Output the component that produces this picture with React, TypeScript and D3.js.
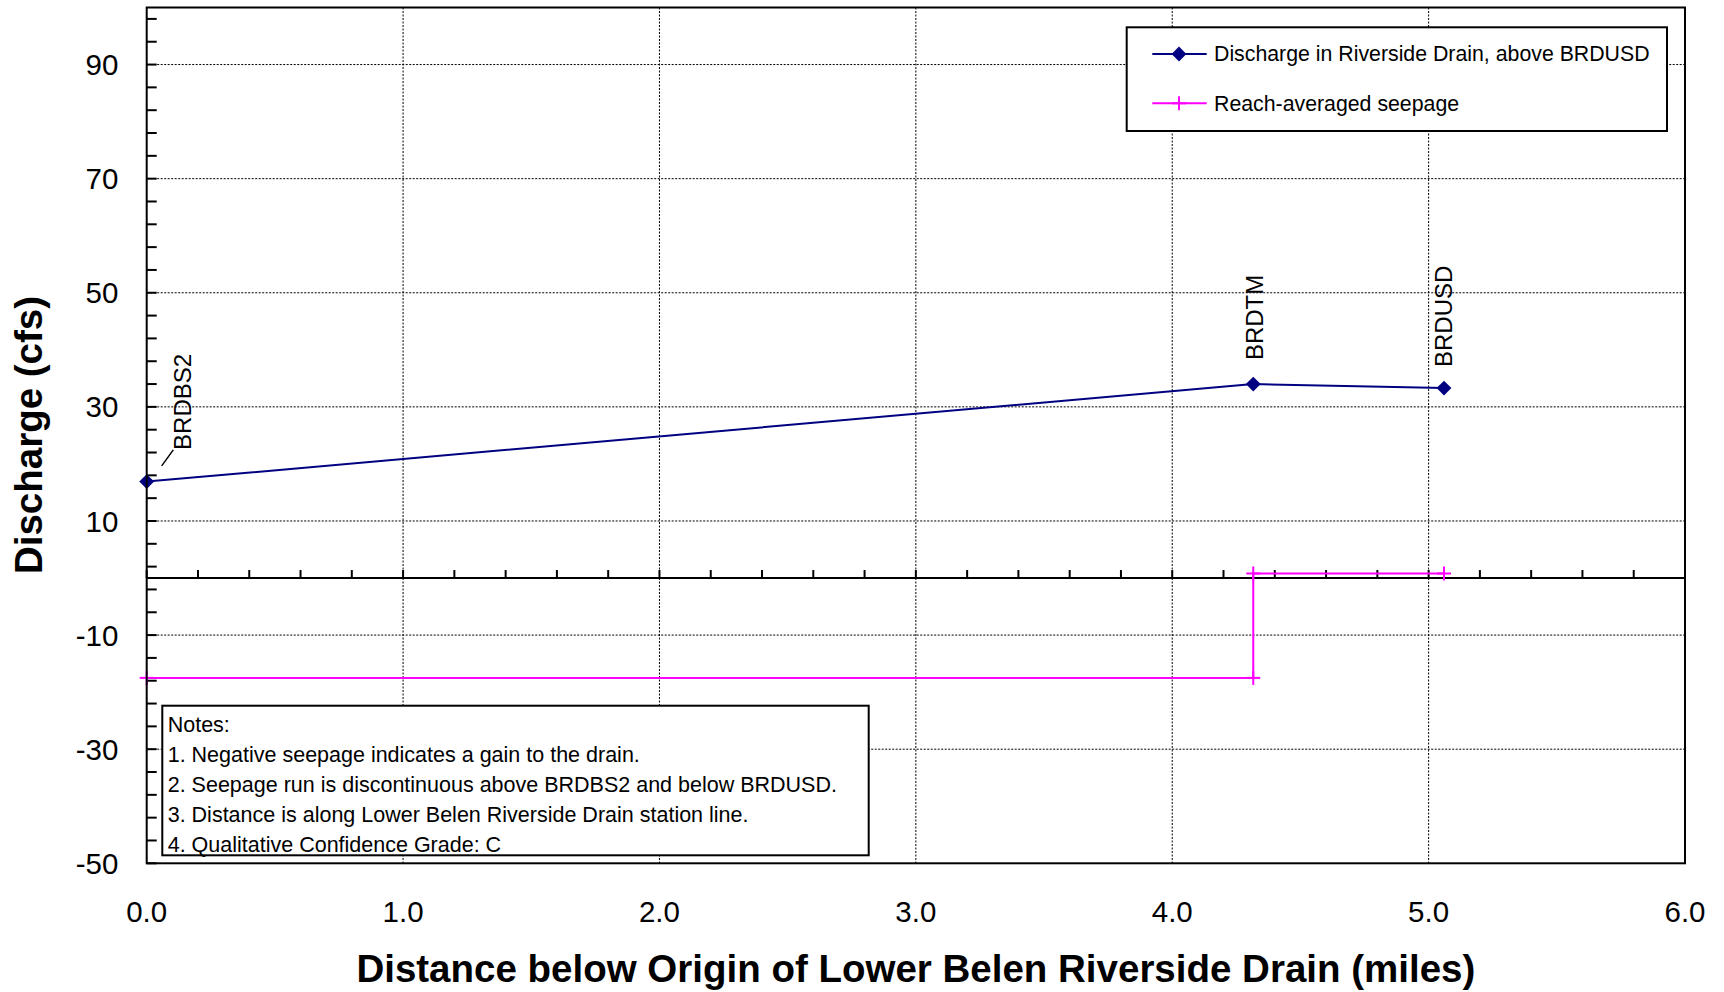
import React from "react";
import * as d3 from "d3";

// ---- data ----
const stationNames = ["BRDBS2", "BRDTM", "BRDUSD"];
const stationDistance = [0, 4.316, 5.06];
const dischargeValues = [16.9, 34.0, 33.3];

const seepageDistance = [0, 4.316, 4.316, 5.06];
const seepageValues = [-17.5, -17.5, 0.8, 0.8];

const xTickValues = [0, 1, 2, 3, 4, 5, 6];
const yTickValues = [-50, -30, -10, 10, 30, 50, 70, 90];
const yGridValues = [-30, -10, 10, 30, 50, 70, 90];
const xGridValues = [1, 2, 3, 4, 5];

const legendLabels = ["Discharge in Riverside Drain, above BRDUSD", "Reach-averaged seepage"];
const noteLines = [
  "Notes:",
  "1. Negative seepage indicates a gain to the drain.",
  "2. Seepage run is discontinuous above BRDBS2 and below BRDUSD.",
  "3. Distance is along Lower Belen Riverside Drain station line.",
  "4. Qualitative Confidence Grade: C",
];

const xTitle = "Distance below Origin of Lower Belen Riverside Drain (miles)";
const yTitle = "Discharge (cfs)";

// ---- styling / layout ----
const W = 1724;
const H = 992;
const FONT = "'Liberation Sans', Arial, Helvetica, sans-serif";
const NAVY = "#000080";
const MAGENTA = "#FF00FF";
const PL = 146.7, PR = 1685, PT = 7.5, PB = 863.3;

// per-station label offsets (px) relative to the point
const labelOffsets: Record<string, { dx: number; dy: number; leader?: boolean }> = {
  BRDBS2: { dx: 44, dy: -31.7, leader: true },
  BRDTM: { dx: 9.4, dy: -24 },
  BRDUSD: { dx: 7.7, dy: -21 },
};

export default function App() {
  const x = d3.scaleLinear().domain([0, 6]).range([PL, PR]);
  const y = d3.scaleLinear().domain([-50, 100]).range([PB, PT]);

  const discharge = stationDistance.map((d, i) => ({ x: d, y: dischargeValues[i], name: stationNames[i] }));
  const seepage = seepageDistance.map((d, i) => ({ x: d, y: seepageValues[i] }));

  const line = d3
    .line<{ x: number; y: number }>()
    .x((d) => x(d.x))
    .y((d) => y(d.y));

  const yMinorTicks = d3.range(-50, 100, 4);
  const xMinorTicks = d3.range(0, 6.0001, 0.2);
  const diamond = d3.symbol().type(d3.symbolSquare).size(110)()!;

  const cross = (cx: number, cy: number, color: string, key: string | number) => (
    <g key={key} stroke={color} strokeWidth={2}>
      <line x1={cx - 7} x2={cx + 7} y1={cy} y2={cy} />
      <line x1={cx} x2={cx} y1={cy - 7} y2={cy + 7} />
    </g>
  );

  const legendY = [54, 103.3];

  return (
    <svg
      width={W}
      height={H}
      viewBox={`0 0 ${W} ${H}`}
      style={{ position: "absolute", left: 0, top: 0, background: "#fff" }}
      fontFamily={FONT}
    >
      <rect x={0} y={0} width={W} height={H} fill="#fff" />

      {/* gridlines */}
      <g stroke="#000" strokeWidth={1} strokeDasharray="2,1.5">
        {yGridValues.map((v) => (
          <line key={"gy" + v} x1={PL} x2={PR} y1={y(v)} y2={y(v)} />
        ))}
        {xGridValues.map((v) => (
          <line key={"gx" + v} x1={x(v)} x2={x(v)} y1={PT} y2={PB} />
        ))}
      </g>

      {/* zero axis with ticks */}
      <line x1={PL} x2={PR} y1={y(0)} y2={y(0)} stroke="#000" strokeWidth={2} />
      <g stroke="#000" strokeWidth={2}>
        {xMinorTicks.map((v, i) => (
          <line key={"xt" + i} x1={x(v)} x2={x(v)} y1={y(0)} y2={y(0) - 8} />
        ))}
        {yMinorTicks.map((v, i) => (
          <line key={"yt" + i} x1={PL} x2={PL + 10} y1={y(v)} y2={y(v)} />
        ))}
      </g>

      {/* seepage */}
      <path d={line(seepage)!} fill="none" stroke={MAGENTA} strokeWidth={2} />
      {seepage.map((d, i) => cross(x(d.x), y(d.y), MAGENTA, "sc" + i))}

      {/* discharge */}
      <path d={line(discharge)!} fill="none" stroke={NAVY} strokeWidth={2} />
      {discharge.map((d, i) => (
        <path
          key={"dm" + i}
          d={diamond}
          fill={NAVY}
          transform={`translate(${x(d.x)},${y(d.y)}) rotate(45)`}
        />
      ))}

      {/* station labels */}
      {discharge.map((d) => {
        const off = labelOffsets[d.name];
        const px = x(d.x);
        const py = y(d.y);
        return (
          <g key={"lab" + d.name}>
            {off.leader && (
              <line x1={px + 15} y1={py - 15.7} x2={px + 26.6} y2={py - 31.7} stroke="#000" strokeWidth={1.5} />
            )}
            <text
              transform={`translate(${px + off.dx},${py + off.dy}) rotate(-90)`}
              fontSize={24}
              fill="#000"
              textAnchor="start"
            >
              {d.name}
            </text>
          </g>
        );
      })}

      {/* notes box */}
      <rect x={162.3} y={705.7} width={868.7 - 162.3} height={855.3 - 705.7} fill="#fff" stroke="#000" strokeWidth={2} />
      {noteLines.map((t, i) => (
        <text key={"n" + i} x={167.7} y={731.7 + i * 30} fontSize={21.5} fill="#000">
          {t}
        </text>
      ))}

      {/* legend */}
      <rect x={1126.7} y={27.3} width={1667 - 1126.7} height={131 - 27.3} fill="#fff" stroke="#000" strokeWidth={2} />
      <line x1={1152.3} x2={1206.7} y1={legendY[0]} y2={legendY[0]} stroke={NAVY} strokeWidth={2} />
      <path d={diamond} fill={NAVY} transform={`translate(1179,${legendY[0]}) rotate(45)`} />
      <line x1={1152.3} x2={1206.7} y1={legendY[1]} y2={legendY[1]} stroke={MAGENTA} strokeWidth={2} />
      {cross(1179, legendY[1], MAGENTA, "lc")}
      {legendLabels.map((t, i) => (
        <text key={"lg" + i} x={1214} y={legendY[i]} dy="0.35em" fontSize={21.3} fill="#000">
          {t}
        </text>
      ))}

      {/* plot border */}
      <rect x={PL} y={PT} width={PR - PL} height={PB - PT} fill="none" stroke="#000" strokeWidth={2} />

      {/* y tick labels */}
      {yTickValues.map((v) => (
        <text key={"yl" + v} x={118.3} y={y(v)} dy="0.36em" textAnchor="end" fontSize={29.5} fill="#000">
          {v}
        </text>
      ))}

      {/* x tick labels */}
      {xTickValues.map((v) => (
        <text key={"xl" + v} x={x(v)} y={921.7} textAnchor="middle" fontSize={29.5} fill="#000">
          {d3.format(".1f")(v)}
        </text>
      ))}

      {/* axis titles */}
      <text x={(PL + PR) / 2} y={981.5} textAnchor="middle" fontSize={38.5} fontWeight="bold" fill="#000">
        {xTitle}
      </text>
      <text
        transform={`translate(41.7,435) rotate(-90)`}
        textAnchor="middle"
        fontSize={38.5}
        fontWeight="bold"
        fill="#000"
      >
        {yTitle}
      </text>
    </svg>
  );
}
